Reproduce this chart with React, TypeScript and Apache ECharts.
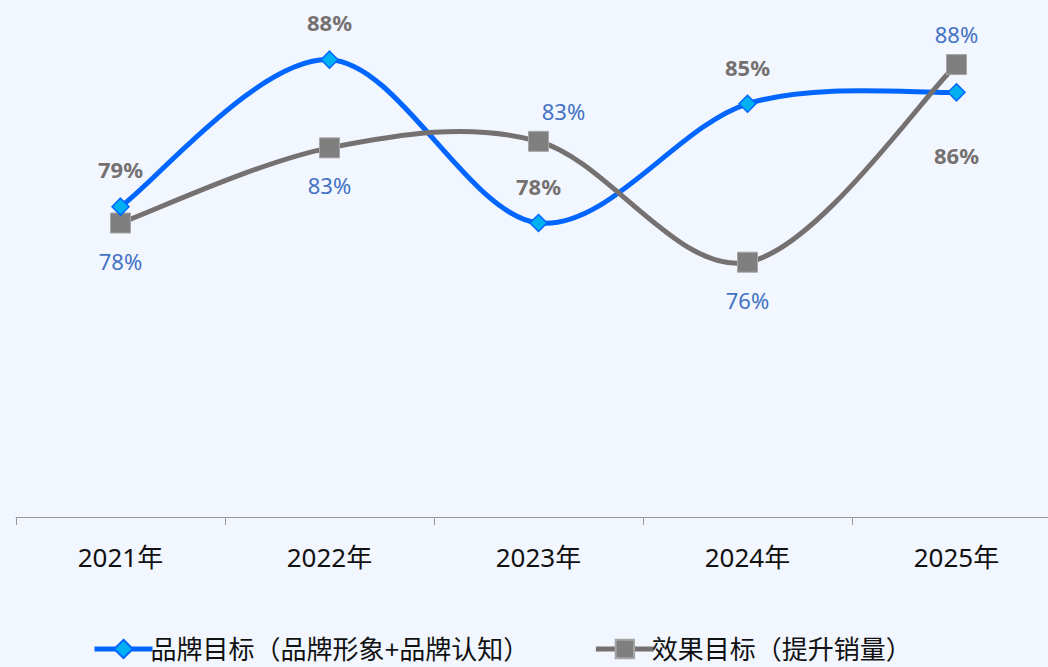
import React, { useEffect, useRef } from "react";
import * as echarts from "echarts";

const categories = ["2021年", "2022年", "2023年", "2024年", "2025年"];
const brandName = "品牌目标（品牌形象+品牌认知）";
const effectName = "效果目标（提升销量）";
const brandValues = [79, 88, 78, 85.3, 86];
const effectValues = [78, 82.6, 83, 75.6, 87.7];
// labels shown as in the reference
const brandLabels = ["79%", "88%", "78%", "85%", "86%"];
const effectLabels = ["78%", "83%", "83%", "76%", "88%"];
const brandLabelPos = ["top", "top", "top", "top", "bottom"];
const effectLabelPos = ["bottom", "bottom", "top", "bottom", "top"];

const BLUE = "#0066FF";
const GRAY = "#767171";

// Catmull-Rom style smooth curve through points given by the axis scales
function smoothPath(values: number[], api: any): string {
  const pts = values.map((v, i) => api.coord([i, v]));
  let d = `M${pts[0][0]},${pts[0][1]}`;
  for (let i = 0; i < pts.length - 1; i++) {
    const p0 = pts[i - 1] || pts[i];
    const p1 = pts[i];
    const p2 = pts[i + 1];
    const p3 = pts[i + 2] || pts[i + 1];
    const c1x = p1[0] + (p2[0] - p0[0]) / 6;
    const c1y = p1[1] + (p2[1] - p0[1]) / 6;
    const c2x = p2[0] - (p3[0] - p1[0]) / 6;
    const c2y = p2[1] - (p3[1] - p1[1]) / 6;
    d += ` C${c1x},${c1y} ${c2x},${c2y} ${p2[0]},${p2[1]}`;
  }
  return d;
}

function curveSeries(id: string, values: number[], color: string, z: number) {
  return {
    id,
    type: "custom",
    coordinateSystem: "cartesian2d",
    silent: true,
    clip: false,
    data: [[0, values[0]]],
    z,
    renderItem: (_params: any, api: any) => ({
      type: "path",
      shape: { pathData: smoothPath(values, api) },
      style: { stroke: color, lineWidth: 5, fill: "none", lineCap: "round", lineJoin: "round" },
    }),
  };
}

export default function App() {
  const ref = useRef<HTMLDivElement>(null);
  useEffect(() => {
    document.body.style.margin = "0";
    const chart = echarts.init(ref.current!, undefined, { renderer: "svg" });
    const font = "'Noto Sans', 'Noto Sans CJK SC', sans-serif";
    chart.setOption({
      animation: false,
      backgroundColor: "#F2F7FF",
      textStyle: { fontFamily: font },
      grid: { left: 16, right: 4, top: 27, bottom: 150, containLabel: false },
      legend: {
        bottom: 5,
        left: 92,
        padding: 0,
        itemWidth: 58,
        itemHeight: 23,
        itemGap: 64,
        textStyle: { fontSize: 26, color: "#111", fontFamily: font, padding: [0, 0, 0, -7] },
        data: [
          { name: brandName, lineStyle: { color: BLUE, width: 5, opacity: 1 } },
          { name: effectName, lineStyle: { color: GRAY, width: 5, opacity: 1 } },
        ],
      },
      xAxis: {
        type: "category",
        data: categories,
        boundaryGap: true,
        axisLine: { lineStyle: { color: "#999", width: 1 } },
        axisTick: { show: true, length: 8, lineStyle: { color: "#999" } },
        axisLabel: { fontSize: 26, color: "#111", margin: 27, fontFamily: font },
      },
      yAxis: {
        type: "value",
        min: 60,
        max: 90,
        show: false,
        splitLine: { show: false },
      },
      series: [
        curveSeries("brandCurve", brandValues, BLUE, 1),
        curveSeries("effectCurve", effectValues, GRAY, 2),
        {
          name: brandName,
          type: "line",
          data: brandValues.map((v, i) => ({
            value: v,
            label: {
              formatter: brandLabels[i],
              position: brandLabelPos[i],
              distance: brandLabelPos[i] === "top" ? 17 : 42,
            },
          })),
          symbol: "diamond",
          symbolSize: 17,
          lineStyle: { color: BLUE, width: 5, opacity: 0 },
          itemStyle: { color: "#00B0F0", borderColor: BLUE, borderWidth: 1.5 },
          label: {
            show: true,
            fontSize: 22,
            fontWeight: "bold",
            color: GRAY,
            fontFamily: font,
          },
          z: 4,
        },
        {
          name: effectName,
          type: "line",
          data: effectValues.map((v, i) => ({
            value: v,
            label: {
              formatter: effectLabels[i],
              position: effectLabelPos[i],
              distance: effectLabelPos[i] === "top" ? 9 : 16,
              offset: i === 2 ? [25, 0] : [0, 0],
            },
          })),
          symbol: "rect",
          symbolSize: 20,
          lineStyle: { color: GRAY, width: 5, opacity: 0 },
          itemStyle: { color: "#7F7F7F", borderColor: "#A6A6A6", borderWidth: 1 },
          label: {
            show: true,
            fontSize: 22,
            color: "#4472C4",
            fontFamily: font,
          },
          z: 3,
        },
      ],
    });
    return () => chart.dispose();
  }, []);
  return (
    <div style={{ width: 1048, height: 667, overflow: "hidden", position: "relative" }}>
      <div ref={ref} style={{ width: 1065, height: 667 }} />
    </div>
  );
}
